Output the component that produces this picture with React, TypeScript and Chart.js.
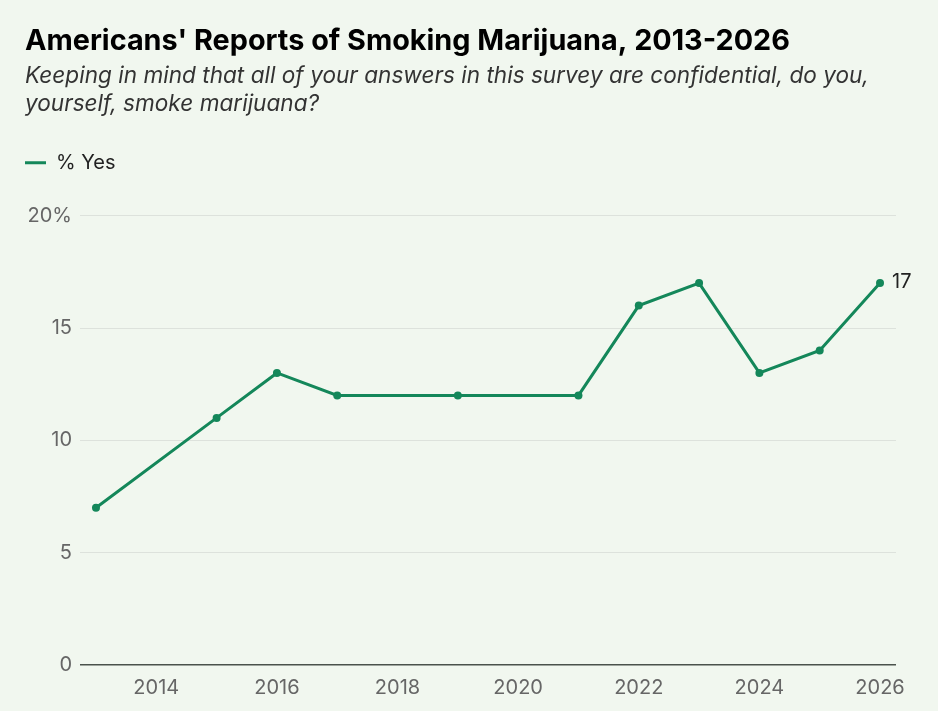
import React, { useEffect, useRef } from "react";
import { Chart, registerables } from "chart.js";

Chart.register(...registerables);

const years = [2013, 2015, 2016, 2017, 2019, 2021, 2022, 2023, 2024, 2025, 2026];
const yesValues = [7, 11, 13, 12, 12, 12, 16, 17, 13, 14, 17];
const xTickYears = [2014, 2016, 2018, 2020, 2022, 2024, 2026];
const yTickValues = [0, 5, 10, 15, 20];

const GREEN = "#14875a";
const BG = "#f1f7ef";
const FONT = "Inter, 'Noto Sans', sans-serif";

// label next to the last point
const lastLabelPlugin = {
  id: "lastLabel",
  afterDatasetsDraw(chart: Chart) {
    const meta = chart.getDatasetMeta(0);
    const pt = meta.data[meta.data.length - 1];
    if (!pt) return;
    const ctx = chart.ctx;
    ctx.save();
    ctx.font = `20px ${FONT}`;
    ctx.fillStyle = "#222";
    ctx.textAlign = "left";
    ctx.textBaseline = "middle";
    ctx.fillText(String(yesValues[yesValues.length - 1]), pt.x + 12, pt.y - 1);
    ctx.restore();
  },
};

// extra room under the legend
const legendGapPlugin = {
  id: "legendGap",
  beforeInit(chart: any) {
    const fit = chart.legend.fit;
    chart.legend.fit = function () {
      fit.bind(chart.legend)();
      this.height += 33;
    };
  },
};

const App = () => {
  const canvasRef = useRef<HTMLCanvasElement | null>(null);
  const chartRef = useRef<Chart | null>(null);

  useEffect(() => {
    document.body.style.margin = "0";
    document.body.style.background = BG;
    const ctx = canvasRef.current?.getContext("2d");
    if (!ctx) return;
    if (chartRef.current) chartRef.current.destroy();

    chartRef.current = new Chart(ctx, {
      type: "line",
      data: {
        datasets: [
          {
            label: "% Yes",
            data: years.map((y, i) => ({ x: y, y: yesValues[i] })),
            borderColor: GREEN,
            backgroundColor: GREEN,
            borderWidth: 3,
            pointRadius: 4,
            pointBackgroundColor: GREEN,
            pointBorderWidth: 0,
            tension: 0,
          },
        ],
      },
      options: {
        responsive: true,
        maintainAspectRatio: false,
        animation: false,
        layout: { padding: { left: 25, right: 42, top: 0, bottom: 0 } },
        plugins: {
          title: {
            display: true,
            text: "Americans' Reports of Smoking Marijuana, 2013-2026",
            align: "start",
            color: "#000",
            font: { family: FONT, size: 28.8, weight: "bold" },
            padding: { top: 24, bottom: 4 },
          },
          subtitle: {
            display: true,
            text: [
              "Keeping in mind that all of your answers in this survey are confidential, do you,",
              "yourself, smoke marijuana?",
            ],
            align: "start",
            color: "#333",
            font: { family: FONT, size: 22.6, style: "italic", lineHeight: 1.22 },
            padding: { top: 0, bottom: 35 },
          },
          legend: {
            display: true,
            align: "start",
            labels: {
              usePointStyle: true,
              pointStyle: "line",
              pointStyleWidth: 21,
              color: "#222",
              font: { family: FONT, size: 20 },
              padding: 0,
              generateLabels: (chart: any) =>
                Chart.defaults.plugins.legend.labels.generateLabels(chart).map((l: any) => ({
                  ...l,
                  strokeStyle: GREEN,
                  lineWidth: 3,
                })),
            },
          },
          tooltip: { enabled: false },
        },
        scales: {
          x: {
            type: "linear",
            min: 2012.735,
            max: 2026.265,
            afterBuildTicks: (scale: any) => {
              scale.ticks = xTickYears.map((v) => ({ value: v }));
            },
            grid: { display: false, drawTicks: false },
            border: { display: false },
            ticks: {
              color: "#666",
              font: { family: FONT, size: 20 },
              padding: 11,
              maxRotation: 0,
              autoSkip: false,
              callback: (v: any) => String(v),
            },
          },
          y: {
            min: 0,
            max: 20,
            afterBuildTicks: (scale: any) => {
              scale.ticks = yTickValues.map((v) => ({ value: v }));
            },
            afterFit: (scale: any) => {
              scale.width = 55;
            },
            grid: {
              drawTicks: false,
              color: (c: any) => (c.tick && c.tick.value === 0 ? "#4a524c" : "#dde2dc"),
              lineWidth: (c: any) => (c.tick && c.tick.value === 0 ? 1.5 : 1),
            },
            border: { display: false },
            ticks: {
              color: "#666",
              font: { family: FONT, size: 20 },
              padding: 8,
              callback: (v: any) => (v === 20 ? "20%" : String(v)),
            },
          },
        },
      },
      plugins: [lastLabelPlugin, legendGapPlugin],
    });

    return () => {
      if (chartRef.current) {
        chartRef.current.destroy();
        chartRef.current = null;
      }
    };
  }, []);

  return (
    <div style={{ width: "938px", height: "711px", background: BG }}>
      <canvas ref={canvasRef} style={{ width: "100%", height: "100%" }}></canvas>
    </div>
  );
};

export default App;
